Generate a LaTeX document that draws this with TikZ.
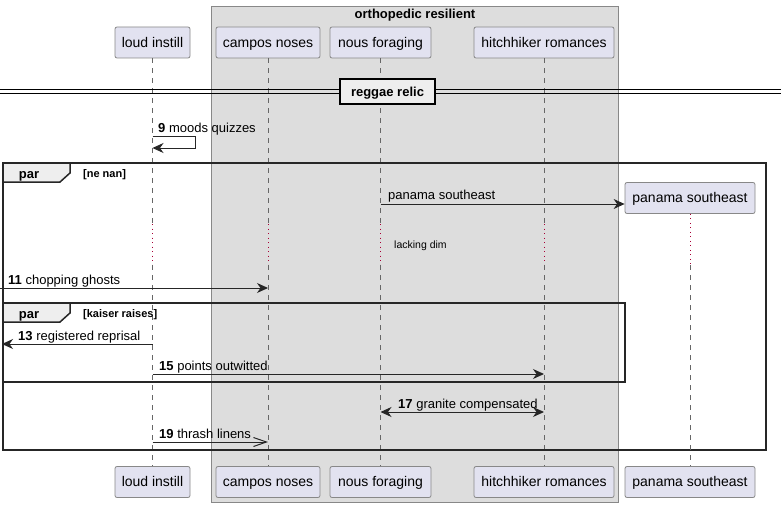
\documentclass[tikz,border=0pt]{standalone}
\usepackage{fontspec}
\setmainfont{Liberation Sans}
\usetikzlibrary{arrows.meta}
\definecolor{partfill}{HTML}{E2E2F0}
\definecolor{partdraw}{HTML}{888888}
\definecolor{groupfill}{HTML}{DDDDDD}
\definecolor{tabfill}{HTML}{EEEEEE}
\definecolor{delaycol}{HTML}{A80036}
\begin{document}
\begin{tikzpicture}[x=1pt,y=-1pt,
  part/.style={draw=partdraw, fill=partfill, rounded corners=2pt, line width=0.8pt,
    minimum height=31pt, inner xsep=0pt, inner ysep=0pt, text height=9.5pt, text depth=0pt,
    font=\fontsize{14}{16}\selectfont},
  life/.style={draw=black!60, dash pattern=on 5pt off 5pt, line width=0.7pt},
  delayline/.style={draw=delaycol, dash pattern=on 1pt off 3.5pt, line width=1pt},
  msg/.style={draw=black!85, line width=1pt, -{Stealth[length=11pt,width=10pt,inset=3.5pt]}},
  openmsg/.style={draw=black!85, line width=1pt, -{Straight Barb[length=13pt,width=9pt]}},
  bimsg/.style={draw=black!85, line width=1pt, {Stealth[length=11pt,width=10pt,inset=3.5pt]}-{Stealth[length=11pt,width=10pt,inset=3.5pt]}},
  lbl/.style={font=\fontsize{13}{15}\selectfont, anchor=base west, inner sep=0pt},
  framebox/.style={draw=black!85, line width=1.5pt},
  tabbox/.style={draw=black!85, fill=tabfill, line width=1.5pt},
  tablbl/.style={font=\bfseries\fontsize{13}{15}\selectfont, inner sep=0pt, anchor=base},
  guard/.style={font=\bfseries\fontsize{11}{13}\selectfont, anchor=base west, inner sep=0pt}]

\fill[white] (0,0) rectangle (781,508);
\useasboundingbox (0,0) rectangle (781,508);

% group box
\draw[draw=partdraw, fill=groupfill, line width=0.8pt] (211,6) rectangle (618,502);
\node[font=\bfseries\fontsize{13}{15}\selectfont, inner sep=0pt, anchor=base] (gt) at (415,19) {orthopedic resilient};

% participants
\node[part, minimum width=75pt] (li) at (152.5,42.5) {loud instill};
\node[part, minimum width=104pt] (cn) at (268,42.5) {campos noses};
\node[part, minimum width=101pt] (nf) at (380.5,42.5) {nous foraging};
\node[part, minimum width=140pt] (hr) at (544,42.5) {hitchhiker romances};
\node[part, minimum width=75pt] (li2) at (152.5,482) {loud instill};
\node[part, minimum width=104pt] (cn2) at (268,482) {campos noses};
\node[part, minimum width=101pt] (nf2) at (380.5,482) {nous foraging};
\node[part, minimum width=140pt] (hr2) at (544,482) {hitchhiker romances};
\node[part, minimum width=130pt] (ps2) at (690,482) {panama southeast};

% delay coordinates
\coordinate (d1) at (0,224);
\coordinate (d2) at (0,265);

% lifelines
\foreach \a/\b in {li/li2, cn/cn2, nf/nf2, hr/hr2} {
  \draw[life] (\a.south) -- (\a.south |- d1);
  \draw[delayline] (\a.south |- d1) -- (\a.south |- d2);
  \draw[life] (\a.south |- d2) -- (\b.north);
}

% divider
\draw[black, line width=0.9pt] (0,89.5) -- (781,89.5);
\draw[black, line width=0.9pt] (0,93) -- (781,93);
\node[draw=black, line width=1.5pt, fill=tabfill, minimum width=95pt, minimum height=25pt,
  inner sep=0pt, text height=9.5pt, text depth=0pt,
  font=\bfseries\fontsize{13}{15}\selectfont] (div) at (387.5,91.5) {reggae relic};

% message 9 (self)
\coordinate (m9a) at (195,136);
\coordinate (m9b) at (195,148);
\draw[msg] (li.south |- m9a) -- (m9a) -- (m9b) -- (li.south |- m9b);
\node[lbl] (l9) at (158,132) {\textbf{9} moods quizzes};

% outer par frame
\draw[framebox] (3,163) rectangle (766,450);
\draw[tabbox] (3,163) -- (70,163) -- (70,173) -- (60,182) -- (3,182) -- cycle;
\node[tablbl] (t1) at (29,178) {par};
\node[guard] (g1) at (83,177) {[ne nan]};

% created participant
\node[part, minimum width=130pt] (ps) at (690,198) {panama southeast};
\draw[delayline] (ps.south) -- (ps.south |- d2);
\draw[life] (ps.south |- d2) -- (ps2.north);

% panama message
\coordinate (yps) at (0,204);
\draw[msg] (nf.south |- yps) -- (ps.west |- yps);
\node[lbl] (lps) at (388,199.5) {panama southeast};

% delay text
\node[font=\fontsize{10.5}{12}\selectfont, anchor=west, inner sep=0pt] (ld) at (394,246) {lacking dim};

% message 11
\coordinate (s11) at (0,288);
\draw[msg] (s11) -- (cn.south |- s11);
\node[lbl] (l11) at (8,284) {\textbf{11} chopping ghosts};

% inner par frame
\draw[framebox] (3,303) rectangle (625,382);
\draw[tabbox] (3,303) -- (70,303) -- (70,313) -- (60,322) -- (3,322) -- cycle;
\node[tablbl] (t2) at (29,318) {par};
\node[guard] (g2) at (83,317) {[kaiser raises]};

% message 13
\coordinate (e13) at (2,344);
\draw[msg] (li.south |- e13) -- (e13);
\node[lbl] (l13) at (18,340) {\textbf{13} registered reprisal};

% message 15
\coordinate (y15) at (0,374);
\draw[msg] (li.south |- y15) -- (hr.south |- y15);
\node[lbl] (l15) at (159,370) {\textbf{15} points outwitted};

% message 17
\coordinate (y17) at (0,412);
\draw[bimsg] (nf.south |- y17) -- (hr.south |- y17);
\node[lbl] (l17) at (398,408) {\textbf{17} granite compensated};

% message 19
\coordinate (y19) at (0,442);
\draw[openmsg] (li.south |- y19) -- (cn.south |- y19);
\node[lbl] (l19) at (159,438) {\textbf{19} thrash linens};

\end{tikzpicture}
\end{document}
